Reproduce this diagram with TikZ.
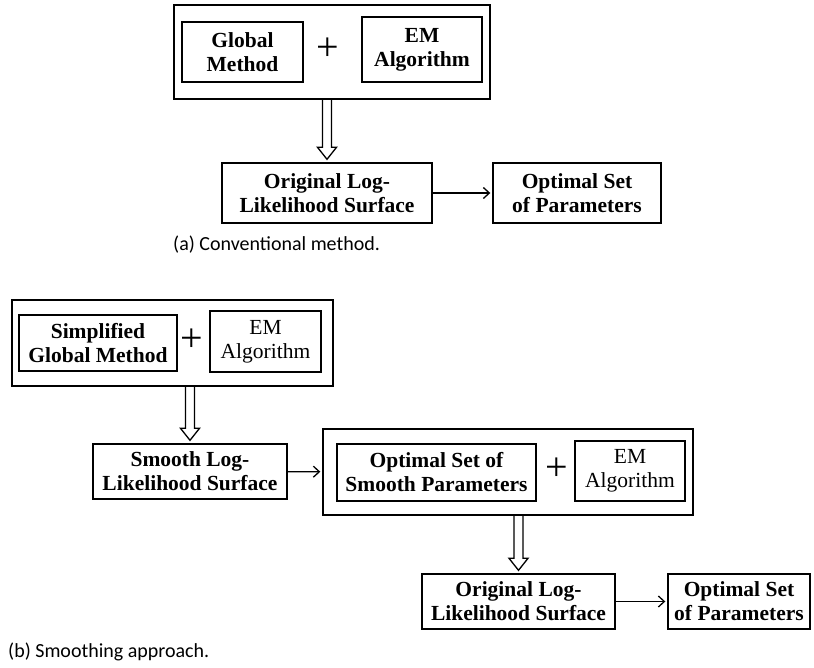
\documentclass[tikz,border=0pt]{standalone}
\usepackage{fontspec}
\setmainfont{Liberation Serif}
\newfontfamily\capfont{Carlito}
\usetikzlibrary{arrows.meta,positioning,calc}

% hollow block arrow from the bottom of #1 down to the top of #2
\newcommand{\fatarrow}[2]{%
  \draw[hollow] ($(#2.north |- #1.south)+(-4.5,0)$) -- ($(#2.north)+(-4.5,-15)$)
    -- ($(#2.north)+(-9.5,-15)$) -- ($(#2.north)+(0,-3)$) -- ($(#2.north)+(9.5,-15)$)
    -- ($(#2.north)+(4.5,-15)$) -- ($(#2.north |- #1.south)+(4.5,0)$);}

\begin{document}
\begin{tikzpicture}[
  x=1pt,y=-1pt,
  box/.style={draw,line width=1.4pt,inner sep=0pt,align=center,font=\fontsize{21.5}{24}\selectfont\bfseries},
  emblk/.style={box,font=\fontsize{21.5}{24}\selectfont},
  grp/.style={draw,line width=1.4pt,inner sep=0pt},
  plus/.style={inner sep=0pt,font=\fontsize{40}{40}\selectfont},
  arr/.style={-{Straight Barb[length=6pt,width=11pt]},line width=1.3pt,shorten >=2pt},
  hollow/.style={line width=1.3pt,line join=miter},
  captxt/.style={anchor=west,inner sep=0pt,font=\capfont\fontsize{20}{22}\selectfont}
]
\useasboundingbox (0,0) rectangle (814,667);

% (a) conventional method
\node[grp,minimum width=316pt,minimum height=94pt] (outA) at (332,52) {};
\node[box,minimum width=121pt,minimum height=60pt] (gmA) at (242.5,52) {Global\\Method};
\node[plus] (plusA) at (328,49) {+};
\node[box,minimum width=120pt,minimum height=65pt] (emA) at (422,49.5) {EM\\Algorithm};
\node[box,minimum width=210pt,minimum height=60pt] (llsA) at (327,193) {Original Log-\\Likelihood Surface};
\node[box,minimum width=168pt,minimum height=60pt] (optA) at (577,193) {Optimal Set\\of Parameters};
\node[captxt] (capA) at (173,245) {(a) Conventional method.};
\fatarrow{outA}{llsA}
\draw[arr] (llsA)--(optA);

% (b) smoothing approach
\node[grp,minimum width=321pt,minimum height=86pt] (outB) at (172.5,343) {};
\node[box,minimum width=158pt,minimum height=56pt] (sgm) at (98,343) {Simplified\\Global Method};
\node[plus] (plusB) at (192,340) {+};
\node[emblk,minimum width=111pt,minimum height=61pt] (emB) at (265.5,341.5) {EM\\Algorithm};
\node[box,minimum width=194pt,minimum height=55pt] (slls) at (190,471.5) {Smooth Log-\\Likelihood Surface};
\node[grp,minimum width=370pt,minimum height=86pt] (outC) at (508,472) {};
\node[box,minimum width=199pt,minimum height=57pt] (osp) at (436.5,472.5) {Optimal Set of\\Smooth Parameters};
\node[plus] (plusC) at (557,469) {+};
\node[emblk,minimum width=110pt,minimum height=60pt] (emC) at (630,471) {EM\\Algorithm};
\node[box,minimum width=193pt,minimum height=55pt] (llsB) at (518.5,601.5) {Original Log-\\Likelihood Surface};
\node[box,minimum width=142pt,minimum height=55pt] (optB) at (739,601.5) {Optimal Set\\of Parameters};
\node[captxt] (capB) at (8,652) {(b) Smoothing approach.};
\fatarrow{outB}{slls}
\draw[arr] (slls)--(outC);
\fatarrow{outC}{llsB}
\draw[arr] (llsB)--(optB);
\end{tikzpicture}
\end{document}
